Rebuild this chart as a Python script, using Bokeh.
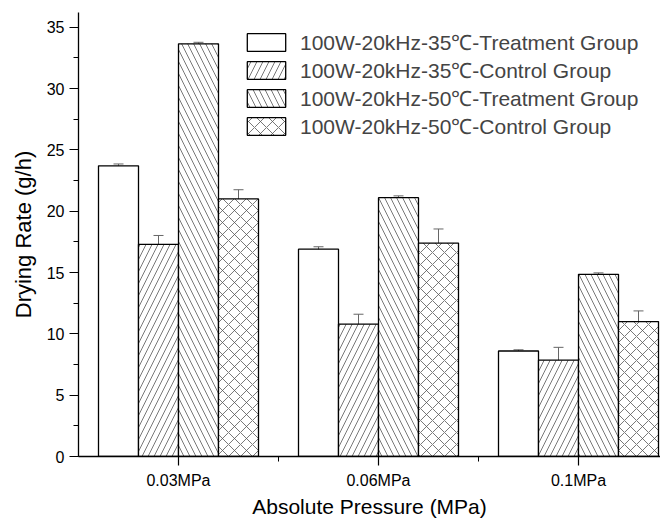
from bokeh.plotting import figure
from bokeh.models import (ColumnDataSource, FixedTicker, SingleIntervalTicker, Whisker,
                          TeeHead, Legend, LegendItem, Range1d)
from bokeh.embed import file_html
from bokeh.resources import INLINE

pressures = ["0.03MPa", "0.06MPa", "0.1MPa"]
series = ["100W-20kHz-35\u2103-Treatment Group",
          "100W-20kHz-35\u2103-Control Group",
          "100W-20kHz-50\u2103-Treatment Group",
          "100W-20kHz-50\u2103-Control Group"]
t35 = [23.7, 16.9, 8.6]
t35_err = [0.15, 0.2, 0.1]
c35 = [17.3, 10.8, 7.85]
c35_err = [0.72, 0.8, 1.05]
t50 = [33.65, 21.1, 14.85]
t50_err = [0.12, 0.15, 0.12]
c50 = [21.0, 17.4, 11.0]
c50_err = [0.75, 1.15, 0.87]

values = [t35, c35, t50, c50]
errors = [t35_err, c35_err, t50_err, c50_err]
hatches = [" ", "/", "\\", "x"]
hscale = [12, 12, 12, 12]
offsets = [-0.3, -0.1, 0.1, 0.3]
bar_w = 0.2
FONT = "Liberation Sans"

p = figure(width=660, height=520, output_backend="svg", toolbar_location=None,
           x_range=Range1d(0.5, 3.41), y_range=Range1d(0, 36.2),
           min_border_left=78, min_border_right=0, min_border_top=12, min_border_bottom=64)
p.xgrid.visible = False
p.ygrid.visible = False
p.outline_line_color = None
p.background_fill_color = "white"

items = []
for i in range(4):
    xs = [g + 1 + offsets[i] for g in range(len(pressures))]
    src = ColumnDataSource(dict(x=xs, top=values[i],
                                upper=[v + e for v, e in zip(values[i], errors[i])],
                                lower=[v - e for v, e in zip(values[i], errors[i])]))
    r = p.vbar(x="x", top="top", width=bar_w, bottom=0, source=src,
               fill_color="white", line_color="black", line_width=1.3,
               hatch_pattern=hatches[i], hatch_color="#555555", hatch_weight=0.8,
               hatch_scale=hscale[i])
    w = Whisker(base="x", upper="upper", lower="lower", source=src,
                line_color="#666666", line_width=1,
                upper_head=TeeHead(size=10, line_color="#666666", line_width=1),
                lower_head=TeeHead(size=10, line_color="#666666", line_width=1))
    p.add_layout(w)
    items.append(LegendItem(label=series[i], renderers=[r]))

legend = Legend(items=items, location=(164, 316), glyph_width=48, glyph_height=22,
                label_height=22, spacing=-4, padding=0, margin=0,
                border_line_color=None, background_fill_alpha=0,
                label_text_font_size="21px", label_text_font=FONT, label_standoff=10)
p.add_layout(legend)

# x axis
p.xaxis.ticker = FixedTicker(ticks=[1, 2, 3], minor_ticks=[1.5, 2.5])
p.xaxis.major_label_overrides = {1: pressures[0], 2: pressures[1], 3: pressures[2]}
p.xaxis.axis_label = "Absolute Pressure (MPa)"
# y axis
p.yaxis.ticker = SingleIntervalTicker(interval=5, num_minor_ticks=2)
p.yaxis.axis_label = "Drying Rate (g/h)"

for ax in (p.xaxis[0], p.yaxis[0]):
    ax.axis_line_color = "black"
    ax.axis_line_width = 1.3
    ax.major_tick_line_color = "black"
    ax.minor_tick_line_color = "black"
    ax.major_tick_line_width = 1.2
    ax.minor_tick_line_width = 1.0
    ax.major_tick_in = 0
    ax.major_tick_out = 9
    ax.minor_tick_in = 0
    ax.minor_tick_out = 5
    ax.major_label_text_font = FONT
    ax.major_label_text_font_size = "16px"
    ax.major_label_text_color = "black"
    ax.axis_label_text_font = FONT
    ax.axis_label_text_font_style = "normal"
    ax.axis_label_text_color = "black"

p.xaxis.axis_label_text_font_size = "21px"
p.yaxis.axis_label_text_font_size = "22px"
p.yaxis.major_label_standoff = 5
p.yaxis.axis_label_standoff = 8
p.xaxis.major_label_standoff = 6
p.xaxis.axis_label_standoff = 3

open("out.html", "w").write(file_html(p, INLINE))
